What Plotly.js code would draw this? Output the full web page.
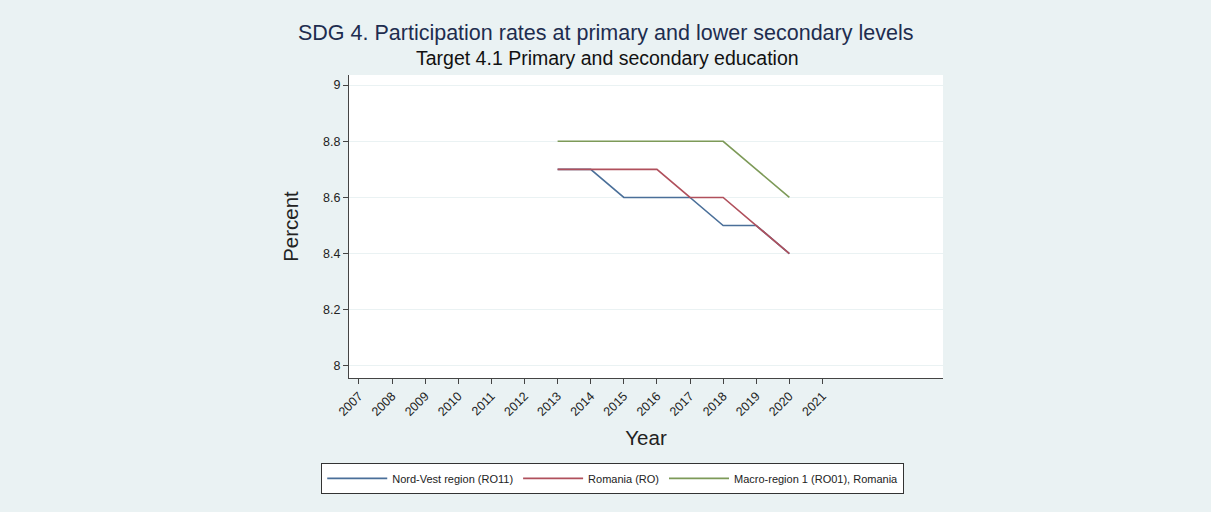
<!DOCTYPE html>
<html>
<head>
<meta charset="utf-8">
<script src="https://cdn.plot.ly/plotly-3.0.1.min.js"></script>
<style>
html,body{margin:0;padding:0;background:#eaf2f3;}
#chart{width:1211px;height:512px;}
</style>
</head>
<body>
<div id="chart"></div>
<script>
const years = [2013, 2014, 2015, 2016, 2017, 2018, 2019, 2020];
const nordVest = [8.7, 8.7, 8.6, 8.6, 8.6, 8.5, 8.5, 8.4];
const romania = [8.7, 8.7, 8.7, 8.7, 8.6, 8.6, 8.5, 8.4];
const macroRegion = [8.8, 8.8, 8.8, 8.8, 8.8, 8.8, 8.7, 8.6];
const seriesNames = ["Nord-Vest region (RO11)", "Romania (RO)", "Macro-region 1 (RO01), Romania"];
const xTicks = [2007, 2008, 2009, 2010, 2011, 2012, 2013, 2014, 2015, 2016, 2017, 2018, 2019, 2020, 2021];
const yTicks = [8, 8.2, 8.4, 8.6, 8.8, 9];

const colors = ["#4a6f99", "#b0505c", "#7d9a58"];
const seriesData = [nordVest, romania, macroRegion];

const traces = seriesData.map((vals, i) => ({
  x: years,
  y: vals,
  type: "scatter",
  mode: "lines",
  name: seriesNames[i],
  line: {color: colors[i], width: 1.6},
  hoverinfo: "x+y+name"
}));

const layout = {
  width: 1211,
  height: 512,
  paper_bgcolor: "#eaf2f3",
  plot_bgcolor: "#ffffff",
  font: {family: "Liberation Sans, Arial, sans-serif", color: "#222"},
  margin: {l: 349, r: 268, t: 75, b: 134},
  showlegend: true,
  xaxis: {
    range: [2006.70, 2024.64],
    tickvals: xTicks,
    ticktext: xTicks.map(String),
    tickangle: -45,
    ticks: "outside",
    ticklen: 5,
    tickcolor: "#444",
    showline: true,
    linecolor: "#444",
    linewidth: 1,
    showgrid: false,
    zeroline: false,
    tickfont: {size: 12.5, color: "#222"},
    title: {text: "Year", font: {size: 20.5, color: "#222"}, standoff: 12}
  },
  yaxis: {
    range: [7.957, 9.036],
    tickvals: yTicks,
    ticktext: yTicks.map(v => String(v)),
    ticks: "outside",
    ticklen: 5,
    tickcolor: "#444",
    showline: true,
    linecolor: "#444",
    linewidth: 1,
    showgrid: true,
    gridcolor: "#eaf2f3",
    gridwidth: 1,
    zeroline: false,
    tickfont: {size: 12.5, color: "#222"},
    title: {text: "Percent", font: {size: 20.5, color: "#222"}, standoff: 18}
  },
  legend: {
    orientation: "h",
    x: 0.444,
    xanchor: "center",
    y: -0.28,
    yanchor: "top",
    bgcolor: "#ffffff",
    bordercolor: "#333",
    borderwidth: 1,
    itemwidth: 60,
    font: {size: 11, color: "#222"},
    traceorder: "normal"
  },
  annotations: [
    {
      text: "SDG 4. Participation rates at primary and lower secondary levels",
      xref: "paper", yref: "paper", x: 0.431, y: 1, xanchor: "center", yanchor: "bottom",
      yshift: 28, showarrow: false,
      font: {size: 21.5, color: "#1e2d4f"}
    },
    {
      text: "Target 4.1 Primary and secondary education",
      xref: "paper", yref: "paper", x: 0.436, y: 1, xanchor: "center", yanchor: "bottom",
      yshift: 4, showarrow: false,
      font: {size: 19.5, color: "#111"}
    }
  ]
};

Plotly.newPlot("chart", traces, layout, {displayModeBar: false, responsive: false});
</script>
</body>
</html>
